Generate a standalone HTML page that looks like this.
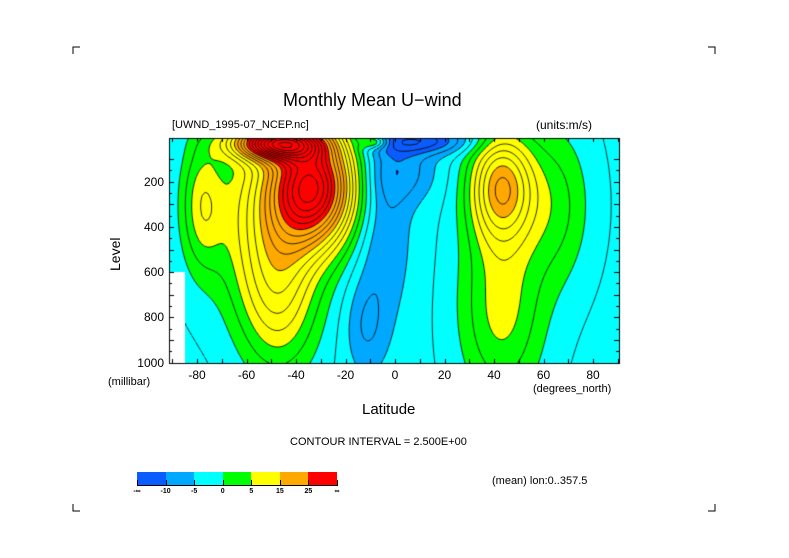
<!DOCTYPE html>
<html><head><meta charset="utf-8">
<style>
body{margin:0;background:#fff;}
#root{position:relative;width:789px;height:558px;overflow:hidden;font-family:"Liberation Sans",sans-serif;color:#000;}
.t{position:absolute;white-space:nowrap;line-height:1;}
</style></head>
<body>
<div id="root">
<svg width="789" height="558" style="position:absolute;left:0;top:0">
<path d="M73,54V47H80 M715,54V47H708 M73,504V511H80 M715,504V511H708" stroke="#000" fill="none"/>
</svg>
<div class="t" style="left:283px;top:91px;font-size:18px;">Monthly Mean U−wind</div>
<div class="t" style="left:172px;top:120px;font-size:11px;">[UWND_1995-07_NCEP.nc]</div>
<div class="t" style="left:536px;top:119px;font-size:12px;">(units:m/s)</div>
<canvas id="cv" width="789" height="558" style="position:absolute;left:0;top:0"></canvas>
<div id="labels"></div>
<div class="t" style="left:108px;top:271px;font-size:14px;transform:rotate(-90deg);transform-origin:0 0;">Level</div>
<div class="t" style="left:108px;top:377px;font-size:11px;">(millibar)</div>
<div class="t" style="left:533px;top:384px;font-size:11px;">(degrees_north)</div>
<div class="t" style="left:362px;top:402px;font-size:15px;">Latitude</div>
<div class="t" style="left:290px;top:437px;font-size:11px;">CONTOUR INTERVAL = 2.500E+00</div>
<div class="t" style="left:492px;top:476px;font-size:11px;">(mean) lon:0..357.5</div>
<div id="cbar"></div>
</div>
<script>
const levels=[-10,-5,0,5,15,25];
const levelLabels=["-∞","-10","-5","0","5","15","25","∞"];
const colors=["#0a5cff","#00a8ff","#00ffff","#00ff00","#ffff00","#ffa800","#ff0000"];
const xTicks=[-80,-60,-40,-20,0,20,40,60,80];
const yTicks=[200,400,600,800,1000];
// Wind features (jets)
const featLat=[-33,-48,-52,-47,-78,43,43,65,-5,-12,3,10,-8];
const featP  =[220,30,350,700,300,220,750,300,400,850,150,20,25];
const featAmp=[34,35,10,10,8,19,9,6,-5,-4,-5,-10,10];
const featSLat=[12,12,16,11,6,9,12,10,8,6,10,15,4];
const featSP =[180,50,300,250,200,170,300,250,300,150,100,40,20];
const baseVal=-3;

const L=169,R=619,T=138,B=363;
function xOf(lat){return 172.25+(lat+90)*2.475;}
function latOf(x){return (x-172.25)/2.475-90;}
function yOf(p){return 362.7-(1000-p)*0.2263;}
function pOf(y){return 1000-(362.7-y)/0.2263;}
function val(lat,p){let v=baseVal;for(let i=0;i<featLat.length;i++){const a=(lat-featLat[i])/featSLat[i],b=(p-featP[i])/featSP[i];v+=featAmp[i]*Math.exp(-(a*a+b*b)/2);}return v;}
function colIdx(v){let i=0;while(i<levels.length&&v>=levels[i])i++;return i;}

const ctx=document.getElementById('cv').getContext('2d');
for(let y=T;y<B;y++)for(let x=L;x<R;x++){
 ctx.fillStyle=colors[colIdx(val(latOf(x+0.5),pOf(y+0.5)))];
 ctx.fillRect(x,y,1,1);
}
const S=3,nx=Math.ceil((R-L)/S)+1,ny=Math.ceil((B-T)/S)+1;
const g=[];
for(let j=0;j<ny;j++){g[j]=[];for(let i=0;i<nx;i++){g[j][i]=val(latOf(L+i*S),pOf(T+j*S));}}
ctx.strokeStyle="#000";ctx.lineWidth=0.8;
for(let lv=-20;lv<=70;lv+=2.5){
 ctx.setLineDash(lv<0?[3,3]:[]);
 ctx.beginPath();
 for(let j=0;j<ny-1;j++)for(let i=0;i<nx-1;i++){
  const a=g[j][i],b=g[j][i+1],c=g[j+1][i+1],d=g[j+1][i];
  const pts=[];const x=L+i*S,y=T+j*S;
  function e(v1,v2,x1,y1,x2,y2){if((v1<lv)!==(v2<lv)){const t=(lv-v1)/(v2-v1);pts.push([x1+t*(x2-x1),y1+t*(y2-y1)]);}}
  e(a,b,x,y,x+S,y);e(b,c,x+S,y,x+S,y+S);e(c,d,x+S,y+S,x,y+S);e(d,a,x,y+S,x,y);
  for(let k=0;k+1<pts.length;k+=2){ctx.moveTo(pts[k][0],pts[k][1]);ctx.lineTo(pts[k+1][0],pts[k+1][1]);}
 }
 ctx.stroke();
}
ctx.setLineDash([]);
ctx.clearRect(0,B+0.5,789,200);ctx.clearRect(0,0,789,T);ctx.clearRect(R+0.5,0,200,558);ctx.clearRect(0,0,L,558);
ctx.fillStyle="#fff";ctx.fillRect(L,272,16,B-272);
ctx.lineWidth=1;ctx.strokeRect(L+0.5,T+0.5,R-L,B-T);
ctx.beginPath();
for(let lat=-90;lat<=90;lat+=10){const x=Math.round(xOf(lat))+0.5;ctx.moveTo(x,B);ctx.lineTo(x,B-4);ctx.moveTo(x,T);ctx.lineTo(x,T+4);}
for(let p=100;p<=1000;p+=50){const y=Math.round(yOf(p))+0.5;ctx.moveTo(L,y);ctx.lineTo(L+(p%100?3:5),y);ctx.moveTo(R,y);ctx.lineTo(R-(p%100?3:5),y);}
ctx.stroke();
const lab=document.getElementById('labels');
xTicks.forEach(v=>{const d=document.createElement('div');d.className='t';d.textContent=v;
 
 
 d.style.cssText=`left:${xOf(v)-15}px;top:369px;width:30px;text-align:center;font-size:12px;`;lab.appendChild(d);});
yTicks.forEach(v=>{const d=document.createElement('div');d.className='t';d.textContent=v;
 
 
 d.style.cssText=`left:120px;top:${yOf(v)-6}px;width:44px;text-align:right;font-size:12px;`;lab.appendChild(d);});
const cb=document.getElementById('cbar');
const cbL=137,cbW=200/7;
colors.forEach((c,i)=>{const d=document.createElement('div');
 
 
 d.style.cssText=`position:absolute;left:${cbL+i*cbW}px;top:472px;width:${cbW}px;height:14px;background:${c};`;cb.appendChild(d);});
const fr=document.createElement('div');


fr.style.cssText=`position:absolute;left:${cbL}px;top:472px;width:200px;height:13px;border-bottom:1px solid #000;`;cb.appendChild(fr);
levelLabels.forEach((t,i)=>{const x=cbL+i*cbW;const k=document.createElement('div');
 
 
 k.style.cssText=`position:absolute;left:${x}px;top:480px;width:1px;height:6px;background:#000;`;cb.appendChild(k);
 const d=document.createElement('div');d.className='t';d.textContent=t;
 
 
 d.style.cssText=`left:${x-10}px;top:488px;width:20px;text-align:center;font-size:7px;font-weight:bold;`;cb.appendChild(d);});
</script>
</body></html>
